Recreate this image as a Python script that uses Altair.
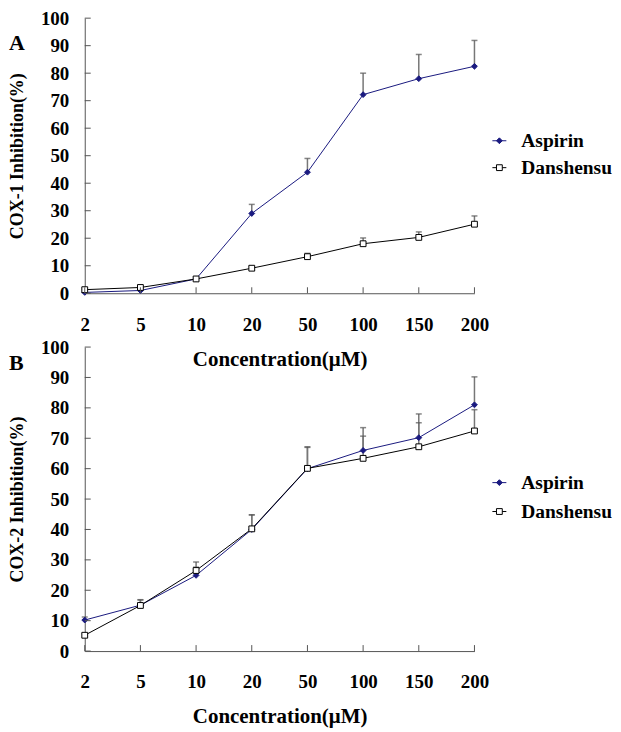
import altair as alt
import pandas as pd

conc = ["2", "5", "10", "20", "50", "100", "150", "200"]
series = ["Aspirin", "Danshensu"]

a_asp = [0.3, 1.0, 5.2, 29.0, 44.0, 72.2, 78.0, 82.5]
a_asp_err = [0.0, 0.0, 0.0, 3.3, 5.0, 7.8, 8.8, 9.4]
a_dan = [1.3, 2.1, 5.2, 9.1, 13.3, 18.0, 20.3, 25.1]
a_dan_err = [0.3, 0.3, 0.5, 0.7, 1.2, 2.1, 2.0, 3.0]

b_asp = [10.2, 15.1, 24.9, 40.0, 60.0, 66.0, 70.2, 81.0]
b_asp_err = [1.0, 1.8, 2.7, 4.8, 7.0, 7.5, 7.8, 9.2]
b_dan = [5.2, 15.0, 26.5, 40.2, 60.1, 63.4, 67.2, 72.4]
b_dan_err = [0.5, 1.8, 2.8, 4.6, 7.1, 7.3, 7.9, 7.0]

y_ticks = [0, 10, 20, 30, 40, 50, 60, 70, 80, 90, 100]

NAVY = "#1a1a80"
AXIS = "#555555"
FONT = "Times New Roman, Liberation Serif, serif"
W = 391
series_colors = [NAVY, "#000000"]
series_fills = [NAVY, "#ffffff"]
series_shapes = ["diamond", "square"]


def frame(asp, asp_err, dan, dan_err):
    rows = []
    for s, vals, errs in (("Aspirin", asp, asp_err), ("Danshensu", dan, dan_err)):
        for c, v, e in zip(conc, vals, errs):
            rows.append({"conc": c, "series": s, "value": v, "top": v + e})
    return pd.DataFrame(rows)


def panel(asp, asp_err, dan, dan_err, ytitle, letter, H, legend_y, row_gap, letter_dy):
    df = frame(asp, asp_err, dan, dan_err)
    xscale = alt.Scale(type="point", padding=0)
    xaxis = alt.Axis(title="Concentration(μM)", labelAngle=0, ticks=False,
                     labelPadding=22, labelFont=FONT, labelFontSize=19,
                     labelFontWeight="bold", labelColor="black",
                     titleFont=FONT, titleFontSize=21, titleFontWeight="bold",
                     titleColor="black", titlePadding=14,
                     domainColor=AXIS, grid=False)
    ysc = alt.Scale(domain=[0, 100], nice=False)
    yaxis = alt.Axis(title=ytitle, values=y_ticks, ticks=False, grid=False,
                     labelPadding=16, labelFont=FONT, labelFontSize=19,
                     labelFontWeight="bold", labelColor="black",
                     titleFont=FONT, titleFontSize=18, titleFontWeight="bold",
                     titleColor="black", titlePadding=14, domainColor=AXIS)
    xenc = alt.X("conc:O", sort=conc, scale=xscale, axis=xaxis)
    yenc = alt.Y("value:Q", scale=ysc, axis=yaxis)
    col = alt.Color("series:N", sort=series, scale=alt.Scale(domain=series, range=series_colors), legend=None)
    shp = alt.Shape("series:N", sort=series, scale=alt.Scale(domain=series, range=series_shapes), legend=None)
    fil = alt.Fill("series:N", sort=series, scale=alt.Scale(domain=series, range=series_fills), legend=None)

    base = alt.Chart(df)
    err = base.mark_rule(color="#777777", strokeWidth=1.5).encode(
        x=xenc, y=yenc, y2="top:Q")
    cap = base.mark_tick(color="#555555", size=6, thickness=1.5).encode(
        x=xenc, y=alt.Y("top:Q", scale=ysc, axis=yaxis))
    line = base.mark_line(strokeWidth=1).encode(x=xenc, y=yenc, color=col)
    pts = base.mark_point(size=34, opacity=1, strokeWidth=1).encode(
        x=xenc, y=yenc, shape=shp, fill=fil, color=col)

    tdf = pd.DataFrame({"v": y_ticks})
    ytk = alt.Chart(tdf).mark_rule(color=AXIS).encode(
        y=alt.Y("v:Q", scale=ysc, axis=yaxis), x=alt.value(0), x2=alt.value(6))
    xdf = pd.DataFrame({"conc": conc})
    xtk = alt.Chart(xdf).mark_rule(color=AXIS).encode(
        x=xenc, y=alt.value(H), y2=alt.value(H - 6))

    # legend (one row per series)
    ldf = pd.DataFrame({"series": series})
    legend_layers = []
    for i, s in enumerate(series):
        ly = legend_y + i * row_gap
        lb = alt.Chart(ldf).transform_filter(alt.datum.series == s)
        legend_layers.append(lb.mark_rule(strokeWidth=1).encode(
            x=alt.value(409), x2=alt.value(423), y=alt.value(ly), color=col))
        legend_layers.append(lb.mark_point(size=34, opacity=1, strokeWidth=1).encode(
            x=alt.value(416), y=alt.value(ly), shape=shp, fill=fil, color=col))
        legend_layers.append(lb.mark_text(align="left", baseline="middle", font=FONT,
                                          fontSize=19.5, fontWeight="bold", color="black").encode(
            x=alt.value(438), y=alt.value(ly), text="series:N"))

    return alt.layer(err, cap, line, pts, ytk, xtk, *legend_layers).properties(
        width=W, height=H,
        title=alt.TitleParams(letter, anchor="start", frame="group", dx=-76, dy=letter_dy,
                              font=FONT, fontSize=22, fontWeight="bold", color="black"))


pa = panel(a_asp, a_asp_err, a_dan, a_dan_err, "COX-1 Inhibition(%)", "A", 276, 123, 27, 50)
pb = panel(b_asp, b_asp_err, b_dan, b_dan_err, "COX-2  Inhibition(%)", "B", 305, 136, 29, 41)

chart = alt.vconcat(pa, pb, spacing=54, bounds="flush").properties(
    padding=0).configure(background="white").configure_view(stroke=None)

chart.save("out.html", embed_options={"renderer": "svg", "actions": False})
